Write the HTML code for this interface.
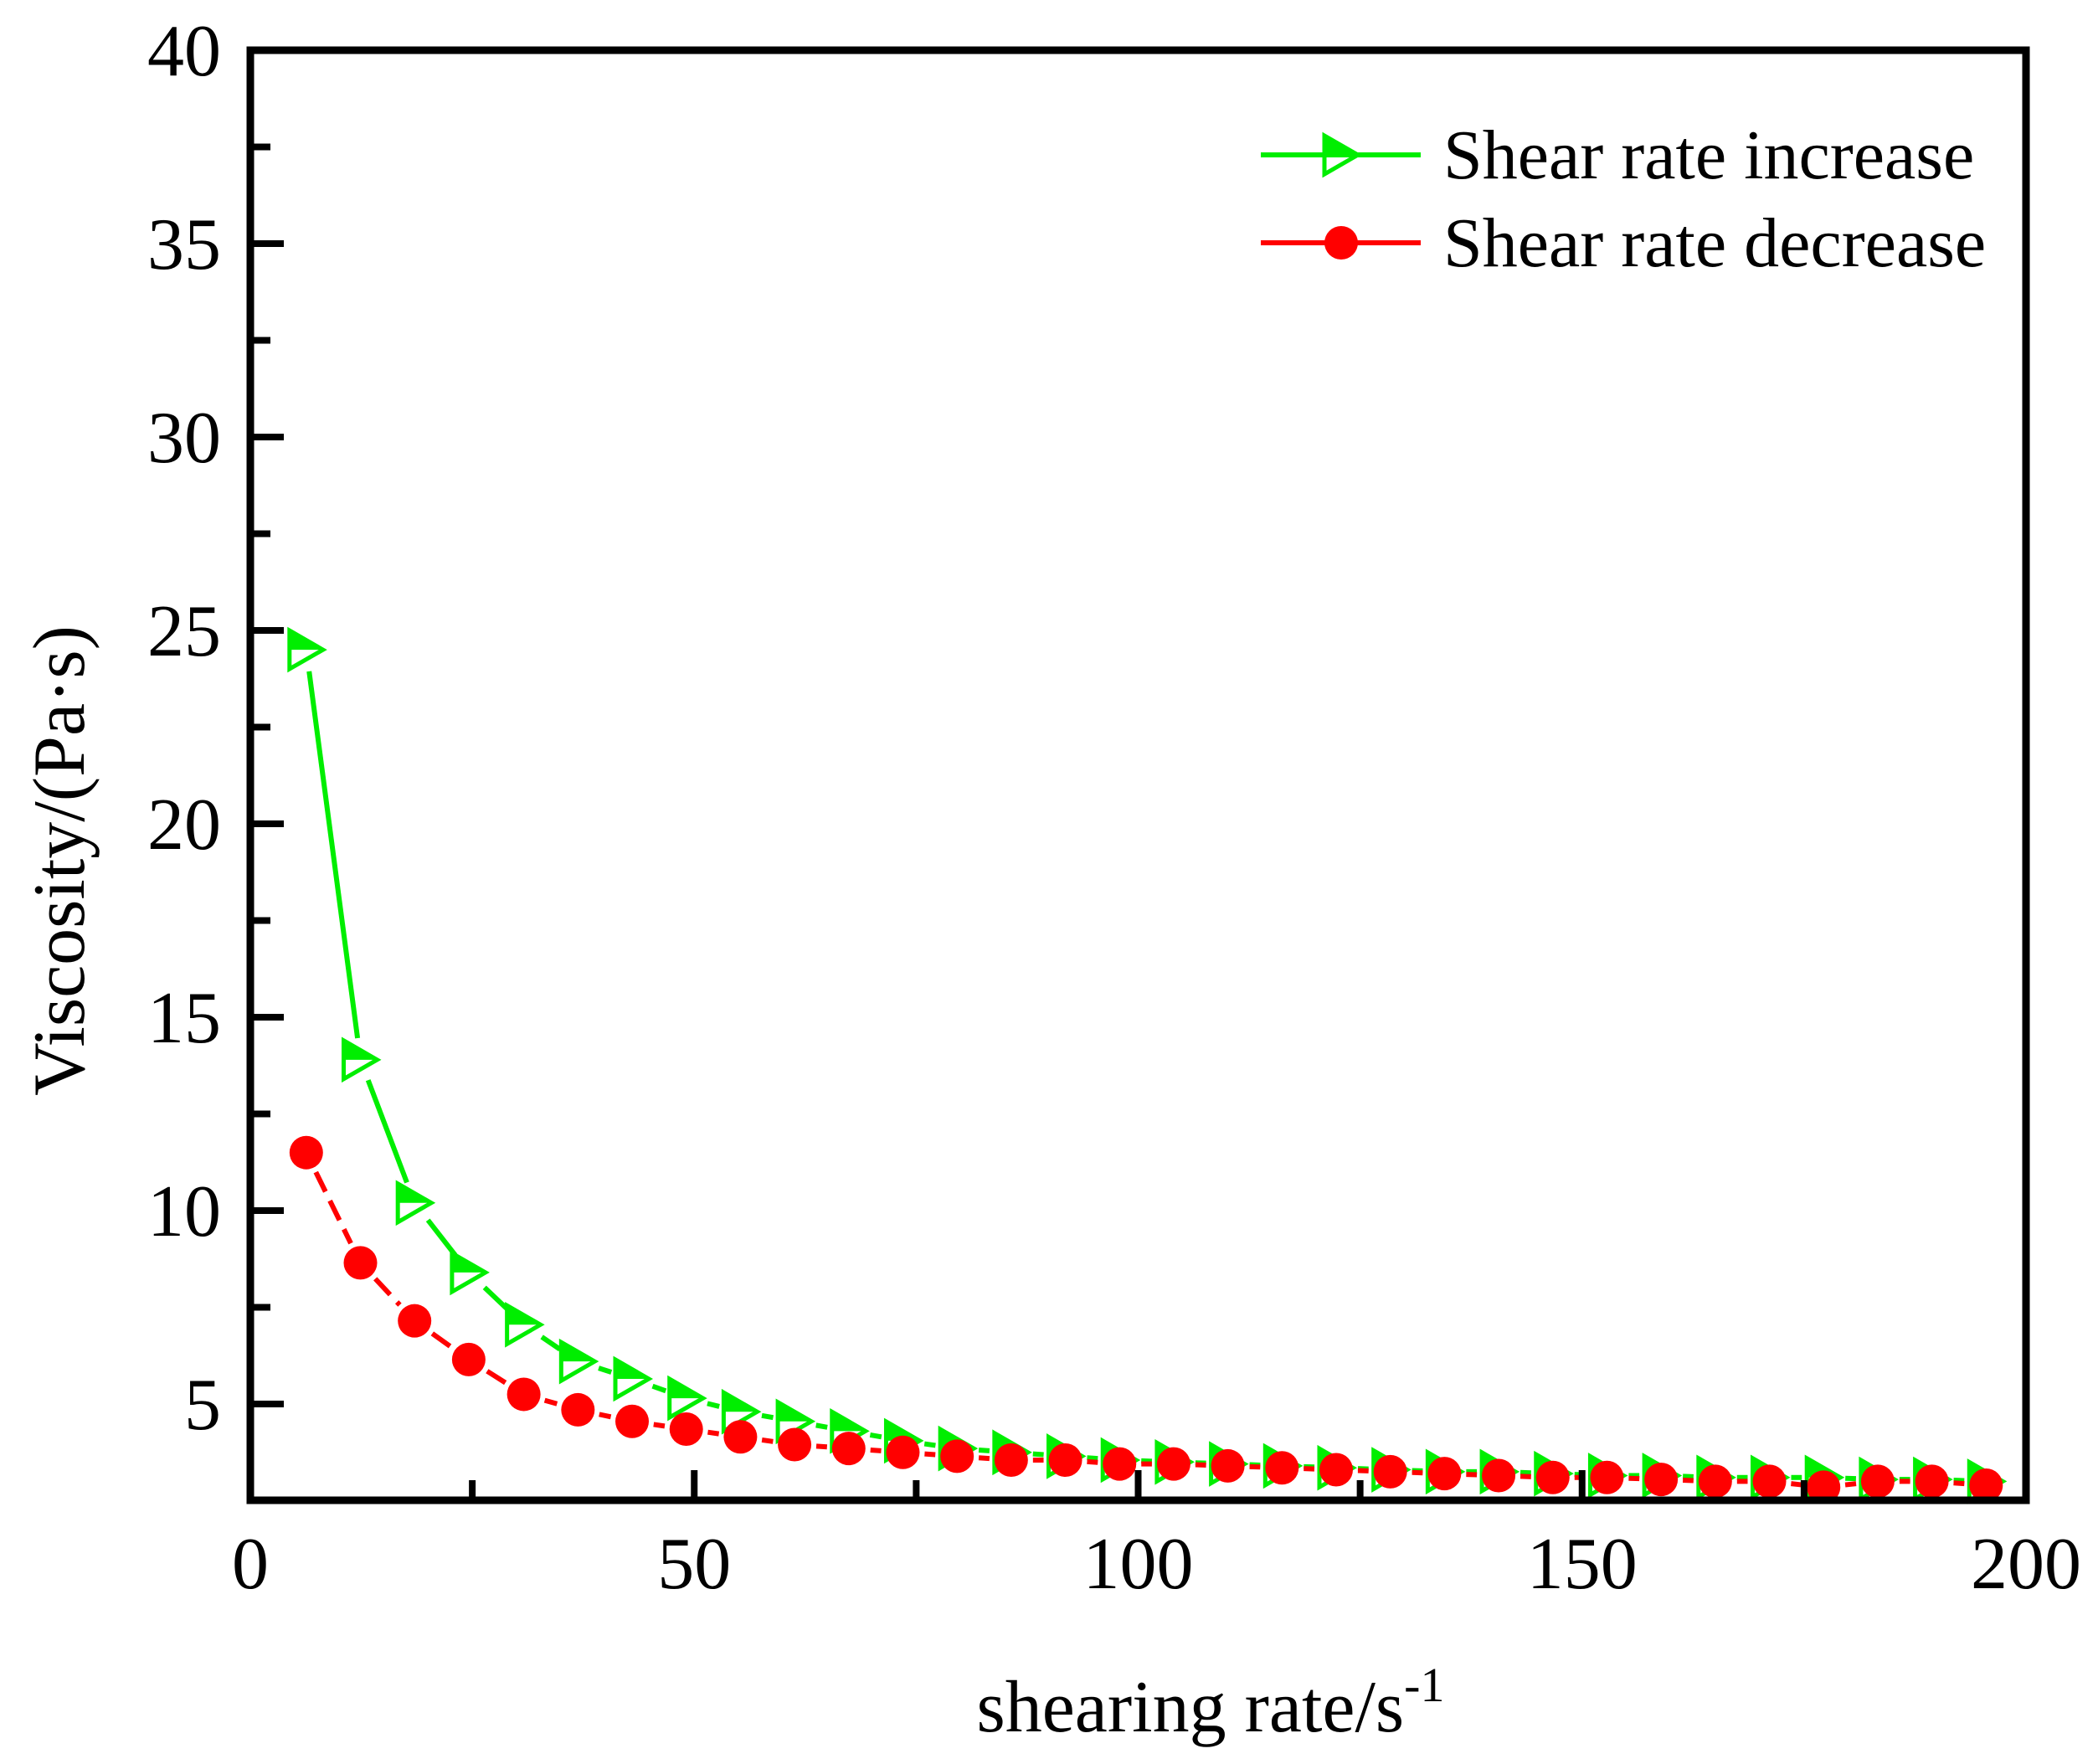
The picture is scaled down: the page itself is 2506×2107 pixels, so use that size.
<!DOCTYPE html>
<html><head><meta charset="utf-8"><style>
html,body{margin:0;padding:0;background:#fff;}
svg text{font-family:"Liberation Serif",serif;fill:#000;}
</style></head><body>
<svg id="chart" width="2506" height="2102" viewBox="0 0 2506 2102" xmlns="http://www.w3.org/2000/svg">
<rect width="2506" height="2102" fill="#fff"/>
<g id="series"></g>
<g id="axes"></g>
<g>
  <line x1="1506" y1="185" x2="1697" y2="185" stroke="#00ee00" stroke-width="6"/>
  <g id="legtri"></g>
  <text x="1724" y="213" font-size="84">Shear rate increase</text>
  <line x1="1506" y1="290" x2="1697" y2="290" stroke="#ff0000" stroke-width="6"/>
  <circle cx="1602" cy="290" r="20" fill="#ff0000"/>
  <text x="1724" y="318" font-size="84">Shear rate decrease</text>
</g>
<text x="1446" y="2068" font-size="88" text-anchor="middle">shearing rate/s<tspan dy="-36" font-size="58">-1</tspan></text>
<text transform="translate(100,1028) rotate(-90)" font-size="88" text-anchor="middle">Viscosity/(Pa·s)</text>
</svg>
<script>
const xValues=[6.3,12.4,18.5,24.6,30.8,36.9,43.0,49.1,55.2,61.3,67.4,73.5,79.6,85.7,91.8,97.9,104.0,110.1,116.2,122.3,128.4,134.5,140.6,146.7,152.8,158.9,165.0,171.1,177.2,183.3,189.4,195.5];
const increaseValues=[24.5,13.9,10.2,8.4,7.05,6.1,5.65,5.15,4.8,4.55,4.3,4.05,3.85,3.75,3.65,3.55,3.5,3.45,3.4,3.35,3.3,3.25,3.25,3.2,3.15,3.15,3.1,3.1,3.1,3.05,3.05,3.0];
const decreaseValues=[11.5,8.65,7.15,6.15,5.25,4.85,4.55,4.35,4.15,3.95,3.85,3.75,3.65,3.55,3.55,3.45,3.45,3.4,3.35,3.3,3.25,3.2,3.15,3.1,3.1,3.05,3.0,3.0,2.85,3.0,3.0,2.9];
const xTicks=[0,50,100,150,200];
const yTicks=[5,10,15,20,25,30,35,40];
const NS="http://www.w3.org/2000/svg";
const X0=299,X1=2420,Y40=60,Y5=1677;
const xs=v=>X0+(v-0)/200*(X1-X0);
const ys=v=>Y5-(v-5)*(Y5-Y40)/35;
const YB=1792;
function mk(t,a,p){const e=document.createElementNS(NS,t);for(const k in a)e.setAttribute(k,a[k]);(p||document.getElementById('series')).appendChild(e);return e;}
const ser=document.getElementById('series'),ax=document.getElementById('axes');
function drawLine(vals,color,dash,gap,name){
  for(let i=0;i<vals.length-1;i++){
    const x1=xs(xValues[i]),y1=ys(vals[i]),x2=xs(xValues[i+1]),y2=ys(vals[i+1]);
    const d=Math.hypot(x2-x1,y2-y1);if(d<2*gap)continue;
    const ux=(x2-x1)/d,uy=(y2-y1)/d;
    const l=mk('line',{x1:x1+ux*gap,y1:y1+uy*gap,x2:x2-ux*gap,y2:y2-uy*gap,stroke:color,'stroke-width':6});
    
    
    if(dash)l.setAttribute('stroke-dasharray',dash);
  }
}
function tri(cx,cy,p,name){
  const w=40,h=46;
  const g=mk('g',{},p);
  
  
  mk('polygon',{points:`${cx-w/2},${cy-h/2} ${cx+w/2},${cy} ${cx-w/2},${cy}`,fill:'#00ee00'},g);
  mk('polygon',{points:`${cx-w/2},${cy-h/2} ${cx+w/2},${cy} ${cx-w/2},${cy+h/2}`,fill:'none',stroke:'#00ee00','stroke-width':5},g);
}
drawLine(increaseValues,'#00ee00',null,26,'increase-line');
drawLine(decreaseValues,'#ff0000','26 12',26,'decrease-line');
increaseValues.forEach((v,i)=>tri(xs(xValues[i]),ys(v),ser,'increase-point'));
decreaseValues.forEach((v,i)=>{const c=mk('circle',{cx:xs(xValues[i]),cy:ys(v),r:20,fill:'#ff0000'});

});
tri(1602,185,document.getElementById('legtri'),'legend-marker-increase');
const fr=mk('rect',{x:X0,y:Y40,width:X1-X0,height:YB-Y40,fill:'none',stroke:'#000','stroke-width':9},ax);


for(let v=25;v<200;v+=50){mk('line',{x1:xs(v),y1:YB,x2:xs(v),y2:YB-24,stroke:'#000','stroke-width':8},ax);}
xTicks.forEach(v=>{
  if(v>0&&v<200)mk('line',{x1:xs(v),y1:YB,x2:xs(v),y2:YB-36,stroke:'#000','stroke-width':8},ax);
  const t=mk('text',{x:xs(v),y:1897,'font-size':88,'text-anchor':'middle'},ax);t.textContent=v;
  
  
});
for(let v=7.5;v<40;v+=5){mk('line',{x1:X0,y1:ys(v),x2:X0+24,y2:ys(v),stroke:'#000','stroke-width':8},ax);}
yTicks.forEach(v=>{
  if(v<40)mk('line',{x1:X0,y1:ys(v),x2:X0+40,y2:ys(v),stroke:'#000','stroke-width':8},ax);
  const t=mk('text',{x:264,y:ys(v)+30,'font-size':88,'text-anchor':'end'},ax);t.textContent=v;
  
  
});
</script>
</body></html>
